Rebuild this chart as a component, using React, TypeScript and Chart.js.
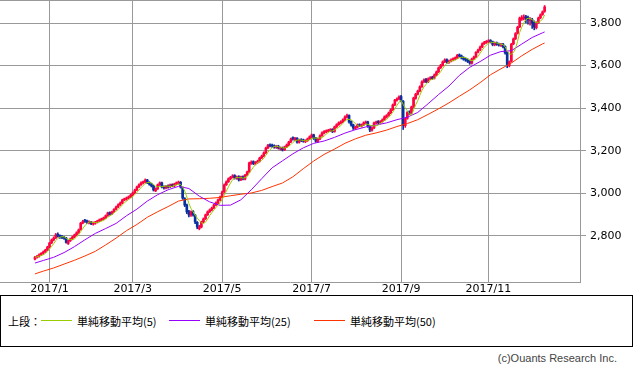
import React, { useEffect, useRef } from 'react';
import { Chart, registerables } from 'chart.js';
Chart.register(...registerables);

// Daily OHLC (trading-day index 0..245)
const openP = [
  2692,2700,2706,2712,2719,2726,2735,2749,2768,2782,
  2791,2808,2802,2798,2794,2791,2765,2778,2787,2796,
  2806,2816,2830,2861,2872,2871,2862,2866,2856,2860,
  2866,2871,2876,2880,2885,2896,2910,2904,2914,2926,
  2937,2947,2956,2970,2973,2979,2984,2993,3003,3017,
  3031,3041,3050,3053,3063,3052,3044,3036,3012,3022,
  3041,3050,3031,3025,3036,3031,3041,3035,3045,3048,
  3052,3028,2975,2946,2915,2898,2915,2898,2864,2835,
  2842,2867,2881,2900,2914,2923,2932,2946,2956,2970,
  2984,3008,3041,3055,3069,3076,3084,3071,3079,3064,
  3079,3067,3087,3101,3140,3149,3139,3146,3151,3167,
  3176,3191,3214,3228,3226,3224,3216,3222,3208,3214,
  3205,3219,3228,3242,3262,3252,3259,3240,3253,3251,
  3243,3248,3256,3266,3275,3260,3244,3256,3271,3283,
  3289,3292,3295,3300,3291,3313,3323,3330,3336,3346,
  3358,3366,3338,3322,3305,3311,3323,3316,3322,3330,
  3336,3316,3297,3308,3330,3338,3331,3338,3346,3358,
  3366,3378,3393,3416,3437,3444,3455,3433,3318,3352,
  3383,3378,3407,3446,3466,3481,3501,3524,3535,3524,
  3538,3546,3541,3557,3571,3590,3601,3618,3628,3615,
  3621,3627,3632,3636,3650,3646,3638,3632,3628,3622,
  3611,3632,3641,3663,3674,3688,3703,3709,3712,3718,
  3712,3698,3707,3702,3695,3701,3690,3662,3600,3620,
  3702,3726,3752,3782,3818,3822,3830,3826,3810,3816,
  3803,3778,3802,3825,3840,3855,
];
const highP = [
  2704,2709,2716,2722,2730,2738,2752,2770,2786,2796,
  2812,2815,2806,2803,2799,2794,2781,2790,2799,2809,
  2820,2833,2864,2874,2878,2875,2871,2869,2866,2869,
  2874,2880,2884,2889,2899,2912,2914,2917,2929,2940,
  2951,2960,2973,2978,2983,2988,2996,3007,3020,3034,
  3045,3054,3058,3068,3066,3055,3048,3039,3026,3044,
  3054,3053,3035,3038,3040,3044,3045,3048,3054,3058,
  3056,3031,2980,2950,2920,2918,2919,2901,2868,2850,
  2870,2885,2903,2918,2927,2936,2949,2960,2973,2987,
  3011,3045,3059,3073,3080,3088,3088,3082,3083,3081,
  3083,3090,3105,3147,3153,3153,3150,3156,3170,3180,
  3195,3217,3230,3233,3231,3228,3226,3226,3218,3218,
  3222,3232,3245,3260,3266,3263,3262,3255,3257,3255,
  3252,3260,3270,3279,3278,3263,3260,3275,3289,3295,
  3298,3301,3304,3304,3316,3327,3336,3341,3350,3364,
  3372,3369,3341,3325,3316,3326,3327,3326,3336,3340,
  3339,3319,3312,3335,3340,3342,3342,3350,3364,3370,
  3382,3397,3420,3442,3449,3458,3460,3436,3355,3385,
  3388,3410,3452,3470,3485,3505,3528,3538,3540,3542,
  3548,3550,3561,3575,3594,3606,3622,3632,3632,3626,
  3632,3637,3641,3653,3655,3650,3642,3636,3632,3626,
  3635,3645,3666,3678,3692,3707,3714,3718,3722,3722,
  3715,3711,3711,3706,3705,3705,3693,3665,3622,3705,
  3730,3755,3785,3828,3835,3838,3836,3832,3825,3822,
  3810,3806,3828,3843,3857,3882,
];
const lowP = [
  2688,2696,2701,2708,2714,2722,2731,2745,2764,2777,
  2788,2795,2789,2787,2784,2766,2760,2774,2782,2792,
  2802,2812,2827,2857,2864,2859,2857,2853,2851,2855,
  2861,2867,2871,2875,2881,2892,2898,2900,2910,2922,
  2933,2943,2952,2965,2968,2974,2979,2989,2999,3013,
  3027,3037,3045,3049,3046,3038,3030,3011,3008,3018,
  3037,3026,3020,3021,3025,3027,3031,3031,3040,3043,
  3025,2972,2938,2905,2890,2892,2893,2858,2834,2829,
  2838,2862,2877,2896,2910,2918,2928,2942,2952,2966,
  2980,3004,3037,3051,3064,3072,3067,3066,3058,3060,
  3063,3063,3083,3097,3136,3135,3134,3141,3147,3163,
  3172,3187,3210,3218,3216,3212,3211,3208,3203,3199,
  3201,3215,3224,3238,3250,3247,3236,3236,3243,3240,
  3238,3244,3252,3262,3253,3240,3240,3252,3267,3279,
  3285,3288,3290,3285,3287,3309,3319,3326,3332,3342,
  3354,3330,3316,3300,3300,3307,3313,3311,3318,3326,
  3310,3290,3292,3304,3326,3327,3327,3334,3342,3354,
  3362,3374,3389,3412,3433,3440,3430,3300,3310,3348,
  3370,3374,3403,3442,3462,3477,3497,3520,3520,3520,
  3534,3535,3537,3553,3567,3586,3597,3614,3610,3610,
  3617,3622,3627,3632,3640,3631,3625,3620,3614,3606,
  3607,3628,3637,3659,3670,3684,3699,3704,3707,3706,
  3693,3693,3695,3691,3690,3683,3654,3590,3594,3616,
  3698,3722,3748,3778,3812,3815,3800,3795,3790,3775,
  3768,3772,3798,3820,3836,3850,
];
const closeP = [
  2700,2705,2711,2718,2725,2734,2748,2767,2781,2790,
  2805,2800,2795,2793,2790,2770,2777,2786,2795,2805,
  2815,2828,2860,2868,2870,2864,2866,2858,2861,2865,
  2870,2875,2879,2884,2895,2908,2903,2913,2925,2936,
  2946,2955,2969,2972,2978,2983,2992,3002,3016,3030,
  3040,3049,3052,3062,3050,3043,3035,3016,3021,3040,
  3049,3030,3026,3034,3030,3040,3036,3044,3049,3050,
  3030,2978,2945,2913,2899,2913,2899,2866,2842,2840,
  2866,2880,2899,2913,2922,2931,2945,2955,2969,2983,
  3007,3040,3054,3068,3075,3082,3072,3077,3063,3077,
  3068,3086,3100,3143,3147,3140,3145,3150,3166,3175,
  3190,3213,3225,3223,3222,3218,3220,3213,3213,3204,
  3218,3227,3241,3255,3255,3258,3241,3250,3248,3245,
  3247,3255,3265,3274,3258,3245,3255,3270,3284,3290,
  3293,3296,3298,3290,3312,3322,3331,3335,3345,3359,
  3365,3335,3321,3307,3310,3321,3318,3321,3331,3335,
  3315,3298,3307,3331,3335,3332,3337,3345,3359,3365,
  3377,3392,3415,3438,3443,3453,3435,3320,3350,3380,
  3377,3406,3448,3465,3480,3500,3523,3532,3525,3537,
  3542,3540,3556,3570,3589,3600,3617,3626,3617,3620,
  3626,3631,3635,3648,3645,3636,3630,3626,3620,3612,
  3631,3640,3662,3673,3687,3702,3708,3711,3716,3711,
  3699,3706,3700,3697,3700,3688,3660,3605,3617,3700,
  3725,3750,3780,3823,3825,3828,3823,3814,3814,3800,
  3781,3800,3823,3838,3852,3875,
];

const maIdx = [0,4,9,14,19,24,29,34,39,44,49,54,59,64,69,74,79,84,89,94,99,104,109,114,119,124,129,134,139,144,149,154,159,164,169,174,179,184,189,194,199,204,209,214,219,224,229,234,239,244,245];
const ma25 = [2673,2685,2700,2722,2750,2782,2812,2835,2859,2895,2926,2964,2994,3017,3033,3023,2987,2960,2944,2945,2970,3017,3069,3120,3153,3186,3214,3235,3246,3263,3283,3299,3312,3321,3331,3346,3358,3380,3421,3464,3504,3554,3592,3619,3649,3666,3670,3701,3732,3754,3758];
const ma50 = [2622,2635,2650,2668,2686,2706,2728,2758,2790,2825,2854,2888,2914,2938,2964,2974,2975,2977,2981,2989,2996,3002,3014,3032,3049,3078,3116,3152,3183,3208,3235,3256,3273,3284,3297,3314,3328,3346,3371,3397,3425,3456,3486,3520,3557,3585,3612,3646,3676,3702,3706];

// Axis labels
const monthIdx = [7, 47, 90, 133, 176, 218];
const monthLabels = ['2017/1', '2017/3', '2017/5', '2017/7', '2017/9', '2017/11'];
const yTicks = [2800, 3000, 3200, 3400, 3600, 3800];
const legendPrefix = '上段：';
const legendLabels = ['単純移動平均(5)', '単純移動平均(25)', '単純移動平均(50)'];
const legendColors = ['#99cc00', '#9900ff', '#ff3300'];
const copyright = '(c)Ouants Research Inc.';

const UP = '#ff0040';
const DOWN = '#0a2f9e';
const GRID = '#999999';

export default function App() {
  const ref = useRef<HTMLCanvasElement>(null);

  useEffect(() => {
    document.body.style.margin = '0';
    const canvas = ref.current;
    if (!canvas) return;

    const ma5 = closeP.map((_, i) => {
      const s = closeP.slice(Math.max(0, i - 4), i + 1);
      return s.reduce((a, b) => a + b, 0) / s.length;
    });
    const colors = closeP.map((c, i) => (c >= openP[i] ? UP : DOWN));

    const framePlugin = {
      id: 'frameTop',
      afterDraw(chart: any) {
        const { ctx, chartArea } = chart;
        ctx.save();
        ctx.strokeStyle = GRID;
        ctx.lineWidth = 1;
        ctx.beginPath();
        ctx.moveTo(chartArea.left, chartArea.top + 0.5);
        ctx.lineTo(chartArea.right, chartArea.top + 0.5);
        ctx.stroke();
        ctx.restore();
      },
    };

    const chart = new Chart(canvas, {
      type: 'bar',
      data: {
        datasets: [
          {
            type: 'line',
            data: ma5.map((v, i) => ({ x: i, y: v })),
            borderColor: legendColors[0],
            borderWidth: 1,
            pointRadius: 0,
            tension: 0,
            order: 0,
          } as any,
          {
            type: 'line',
            data: ma25.map((v, k) => ({ x: maIdx[k], y: v })),
            borderColor: legendColors[1],
            borderWidth: 1,
            pointRadius: 0,
            tension: 0,
            order: 0,
          } as any,
          {
            type: 'line',
            data: ma50.map((v, k) => ({ x: maIdx[k], y: v })),
            borderColor: legendColors[2],
            borderWidth: 1,
            pointRadius: 0,
            tension: 0,
            order: 0,
          } as any,
          {
            type: 'bar',
            data: closeP.map((_, i) => ({ x: i, y: [lowP[i], highP[i]] })),
            backgroundColor: colors,
            barThickness: 1,
            grouped: false,
            order: 2,
          } as any,
          {
            type: 'bar',
            data: closeP.map((c, i) => ({ x: i, y: [openP[i], c] })),
            backgroundColor: colors,
            barThickness: 2,
            minBarLength: 1,
            grouped: false,
            order: 1,
          } as any,
        ],
      },
      options: {
        animation: false,
        responsive: false,
        events: [],
        layout: { padding: 0 },
        plugins: { legend: { display: false }, tooltip: { enabled: false } },
        scales: {
          x: {
            type: 'linear',
            min: -16.8,
            max: 262.0,
            offset: false,
            grid: { color: GRID, drawTicks: false, offset: false },
            border: { color: GRID },
            afterBuildTicks: (s: any) => {
              s.ticks = monthIdx.map((v) => ({ value: v }));
            },
            afterFit: (s: any) => {
              s.height = 13;
              s.paddingLeft = 0;
              s.paddingRight = 0;
            },
            ticks: {
              autoSkip: false,
              maxRotation: 0,
              padding: 1,
              color: '#000',
              font: { family: 'DejaVu Sans', size: 11 },
              callback: (_v: any, idx: number) => monthLabels[idx],
            },
          },
          y: {
            type: 'linear',
            position: 'right',
            min: 2584,
            max: 3908,
            grid: { color: GRID, tickLength: 6, tickColor: GRID },
            border: { color: GRID },
            afterBuildTicks: (s: any) => {
              s.ticks = yTicks.map((v) => ({ value: v }));
            },
            afterFit: (s: any) => {
              s.width = 53;
              s.paddingTop = 0;
              s.paddingBottom = 0;
            },
            ticks: {
              padding: 4,
              color: '#000',
              font: { family: 'DejaVu Sans', size: 11 },
              callback: (v: any) => Number(v).toLocaleString('en-US'),
            },
          },
        },
      } as any,
      plugins: [framePlugin],
    });
    return () => chart.destroy();
  }, []);

  const font = '"Noto Sans CJK JP", "DejaVu Sans", sans-serif';
  const linePos = [40, 168, 313];
  const textPos = [76, 204, 349];

  return (
    <div style={{ position: 'relative', width: 633, height: 370, background: '#fff', overflow: 'hidden' }}>
      <canvas ref={ref} width={633} height={295} style={{ position: 'absolute', left: 0, top: 0, width: 633, height: 295 }} />
      <div
        style={{
          position: 'absolute',
          left: 0,
          top: 295,
          width: 631,
          height: 50,
          border: '1px solid #000',
          fontFamily: font,
          fontSize: 11,
          color: '#000',
        }}
      >
        <span style={{ position: 'absolute', left: 7, top: 17, lineHeight: '16px' }}>{legendPrefix}</span>
        {legendLabels.map((t, k) => (
          <React.Fragment key={t}>
            <div
              style={{
                position: 'absolute',
                left: linePos[k],
                top: 24,
                width: 31,
                height: 1,
                background: legendColors[k],
              }}
            />
            <span style={{ position: 'absolute', left: textPos[k], top: 17, lineHeight: '16px', whiteSpace: 'nowrap' }}>{t}</span>
          </React.Fragment>
        ))}
      </div>
      <div
        style={{
          position: 'absolute',
          right: 16,
          top: 351,
          fontFamily: '"Liberation Sans", Arial, sans-serif',
          fontSize: 11,
          color: '#444',
          lineHeight: '14px',
          whiteSpace: 'nowrap',
        }}
      >
        {copyright}
      </div>
    </div>
  );
}
